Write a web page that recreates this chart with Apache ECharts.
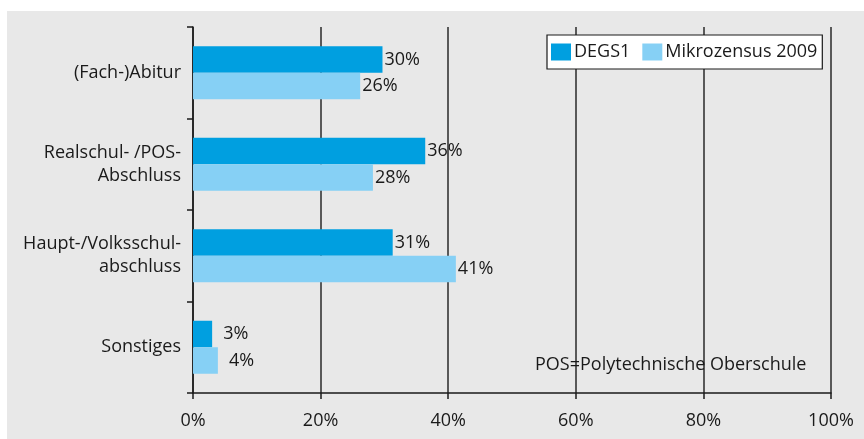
<!DOCTYPE html>
<html>
<head>
<meta charset="utf-8">
<script src="https://cdn.jsdelivr.net/npm/echarts@6/dist/echarts.min.js"></script>
<style>
html,body{margin:0;padding:0;background:#fff;}
#c{width:864px;height:439px;}
</style>
</head>
<body>
<div id="c"></div>
<script>
const categories = ['(Fach-)Abitur', 'Realschul- /POS-\nAbschluss', 'Haupt-/Volksschul-\nabschluss', 'Sonstiges'];
const seriesNames = ['DEGS1', 'Mikrozensus 2009'];
const degs1 = [29.7, 36.4, 31.3, 3.0];
const mikrozensus = [26.2, 28.2, 41.2, 3.9];
const xTicks = [0, 20, 40, 60, 80, 100];
const note = 'POS=Polytechnische Oberschule';

const FONT = 'Open Sans';
const TXT = '#1a1a1a';

function buildData(arr) {
  return arr.map((v, i) => i === 3 ? { value: v, label: { distance: 11 } } : { value: v });
}

const chart = echarts.init(document.getElementById('c'), null, { renderer: 'canvas' });
chart.setOption({
  animation: false,
  textStyle: { fontFamily: FONT },
  graphic: [
    { type: 'rect', z: -10, shape: { x: 7, y: 11, width: 857, height: 428 }, style: { fill: '#e8e8e8' } },
    { type: 'text', z: 10, left: 535, top: 356, style: { text: note, font: '18px "Open Sans"', fill: TXT } }
  ],
  legend: {
    data: seriesNames,
    left: 547, top: 35,
    orient: 'horizontal',
    icon: 'rect',
    itemWidth: 20, itemHeight: 17, itemGap: 12,
    padding: [8, 5, 8, 4],
    backgroundColor: '#fff',
    borderColor: '#1a1a1a', borderWidth: 1.2,
    textStyle: { fontFamily: FONT, fontSize: 18, color: TXT, padding: [0, 0, 0, -2] }
  },
  grid: { left: 193, right: 33, top: 27, bottom: 46, containLabel: false },
  xAxis: {
    type: 'value', min: 0, max: 100, interval: 20,
    axisLine: { show: true, lineStyle: { color: TXT, width: 1.5 } },
    axisTick: { show: true, length: 6, lineStyle: { color: TXT, width: 1.5 } },
    splitLine: { show: true, lineStyle: { color: '#2a2a2a', width: 1.5 } },
    axisLabel: { fontFamily: FONT, fontSize: 18, color: TXT, margin: 19,
      formatter: v => xTicks.includes(v) ? v + '%' : '' }
  },
  yAxis: {
    type: 'category', data: categories, inverse: true,
    axisLine: { show: true, lineStyle: { color: TXT, width: 1.5 } },
    axisTick: { show: true, length: 6, lineStyle: { color: TXT, width: 1.5 } },
    axisLabel: { fontFamily: FONT, fontSize: 18, color: TXT, margin: 12, lineHeight: 23, align: 'right' },
    splitLine: { show: false }
  },
  series: [
    { name: seriesNames[0], type: 'bar', data: buildData(degs1), barWidth: 26.5, barGap: '0%',
      itemStyle: { color: '#009fe0' },
      label: { show: true, position: 'right', distance: 2, fontFamily: FONT, fontSize: 18, color: TXT,
        formatter: p => Math.round(p.value) + '%' } },
    { name: seriesNames[1], type: 'bar', data: buildData(mikrozensus), barWidth: 26.5, barGap: '0%',
      itemStyle: { color: '#86d0f5' },
      label: { show: true, position: 'right', distance: 2, fontFamily: FONT, fontSize: 18, color: TXT,
        formatter: p => Math.round(p.value) + '%' } }
  ]
});
</script>
</body>
</html>
